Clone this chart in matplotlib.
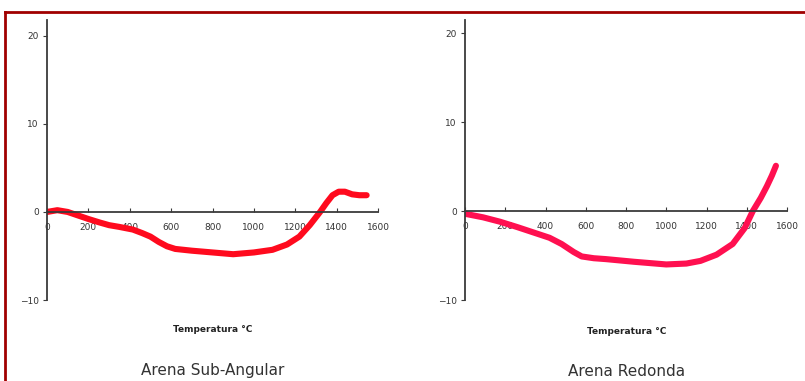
import matplotlib.pyplot as plt
from matplotlib.lines import Line2D

# dilatation curves vs temperature for the two sand types
temp_sub = [0, 50, 100, 150, 200, 255, 300, 350, 415, 460, 500, 540, 580, 620,
            700, 800, 900, 1000, 1090, 1160, 1220, 1270, 1320, 1350, 1380,
            1410, 1440, 1475, 1510, 1545]
val_sub = [0, 0.2, 0.0, -0.4, -0.8, -1.2, -1.5, -1.7, -2.0, -2.4, -2.8, -3.4,
           -3.9, -4.2, -4.4, -4.6, -4.8, -4.6, -4.3, -3.7, -2.8, -1.5, 0.0,
           1.0, 1.9, 2.3, 2.3, 2.0, 1.9, 1.9]

temp_red = [0, 90, 175, 260, 340, 420, 480, 540, 580, 640, 700, 840, 1000,
            1100, 1170, 1250, 1330, 1390, 1430, 1470, 1500, 1525, 1545]
val_red = [-0.3, -0.7, -1.2, -1.8, -2.4, -3.0, -3.7, -4.6, -5.1, -5.3, -5.4,
           -5.7, -6.0, -5.9, -5.6, -4.9, -3.7, -1.9, 0.0, 1.5, 2.8, 4.0, 5.1]

x_ticks = [0, 200, 400, 600, 800, 1000, 1200, 1400, 1600]
y_ticks = [-10, 0, 10, 20]

W, H = 805, 381
fig = plt.figure(figsize=(W / 100, H / 100), dpi=100)


def px_box(x0, x1, ytop, ybot):
    return [x0 / W, 1 - ybot / H, (x1 - x0) / W, (ybot - ytop) / H]


def panel(box, temps, vals, color, ytop, xlabel_y, title, title_y, cx):
    ax = fig.add_axes(box)
    ax.plot(temps, vals, color=color, lw=4.4, solid_capstyle="round",
            solid_joinstyle="round")
    ax.set_xlim(0, 1600)
    ax.set_ylim(-10, ytop)
    ax.spines["top"].set_visible(False)
    ax.spines["right"].set_visible(False)
    ax.spines["bottom"].set_position(("data", 0))
    for s in ("left", "bottom"):
        ax.spines[s].set_color("#3a3a3a")
        ax.spines[s].set_linewidth(1.3)
    ax.set_xticks(x_ticks)
    ax.set_yticks(y_ticks)
    ax.tick_params(axis="x", direction="in", length=3, color="#3a3a3a",
                   labelsize=6.5, labelcolor="#333333", pad=8)
    ax.tick_params(axis="y", direction="out", length=3, color="#3a3a3a",
                   labelsize=6.5, labelcolor="#333333", pad=3)
    fig.text(cx / W, 1 - xlabel_y / H, "Temperatura °C", ha="center",
             va="center", fontsize=6.5, fontweight="bold", color="#222222")
    fig.text(cx / W, 1 - title_y / H, title, ha="center", va="center",
             fontsize=11, color="#333333")
    return ax


panel(px_box(47, 378, 20, 300), temp_sub, val_sub, "#ff0a1e", 21.8,
      330, "Arena Sub-Angular", 371, 213)
panel(px_box(465, 787, 20, 300), temp_red, val_red, "#ff1050", 21.5,
      331, "Arena Redonda", 371, 627)

# dark red frame (top and left edges)
fig.add_artist(Line2D([5 / W, 1], [1 - 12 / H, 1 - 12 / H], color="#a00000", lw=2))
fig.add_artist(Line2D([5 / W, 5 / W], [1 - 12 / H, 0], color="#a00000", lw=2))

fig.savefig("out.png", dpi=100)
